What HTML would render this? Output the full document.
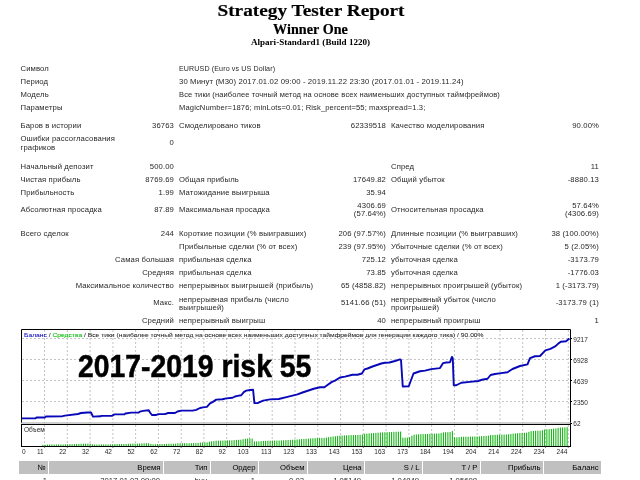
<!DOCTYPE html>
<html><head><meta charset="utf-8">
<style>
html,body{margin:0;padding:0;background:#fff;width:640px;height:480px;overflow:hidden;position:relative}
body{will-change:transform}
.t{position:absolute;white-space:nowrap;line-height:1;font-family:"Liberation Sans",sans-serif;color:#282828}
.abs{position:absolute}
.th{position:absolute;top:461px;height:12.5px;background:#c0c0c0}
.th span{position:absolute;right:2.5px;top:3.4px;font-family:"Liberation Sans",sans-serif;font-size:7.7px;line-height:1;white-space:nowrap}
</style></head><body>
<div class="t" style="top:0.06px;font-size:19.3px;font-family:'Liberation Serif', serif;font-weight:bold;color:#000;-webkit-text-stroke:0.2px #000;transform:scaleY(0.89);transform-origin:50% 80%;left:11.00px;width:600px;text-align:center;">Strategy Tester Report</div>
<div class="t" style="top:22.46px;font-size:14.1px;font-family:'Liberation Serif', serif;font-weight:bold;letter-spacing:0.05px;color:#000;-webkit-text-stroke:0.2px #000;left:10.50px;width:600px;text-align:center;">Winner One</div>
<div class="t" style="top:38.20px;font-size:9.1px;font-family:'Liberation Serif', serif;font-weight:bold;color:#000;transform:scaleY(0.94);transform-origin:50% 80%;left:10.50px;width:600px;text-align:center;">Alpari-Standard1 (Build 1220)</div>
<div class="t" style="top:65.48px;font-size:7.7px;letter-spacing:0.12px;left:20.50px;">Символ</div>
<div class="t" style="top:65.48px;font-size:7.7px;letter-spacing:0.12px;transform:scaleX(0.925);transform-origin:0 0;left:179.00px;">EURUSD (Euro vs US Dollar)</div>
<div class="t" style="top:78.48px;font-size:7.7px;letter-spacing:0.12px;left:20.50px;">Период</div>
<div class="t" style="top:78.48px;font-size:7.7px;letter-spacing:0.12px;transform:scaleX(1.006);transform-origin:0 0;left:179.00px;">30 Минут (M30) 2017.01.02 09:00 - 2019.11.22 23:30 (2017.01.01 - 2019.11.24)</div>
<div class="t" style="top:91.48px;font-size:7.7px;letter-spacing:0.12px;left:20.50px;">Модель</div>
<div class="t" style="top:91.48px;font-size:7.7px;letter-spacing:0.12px;transform:scaleX(0.978);transform-origin:0 0;left:179.00px;">Все тики (наиболее точный метод на основе всех наименьших доступных таймфреймов)</div>
<div class="t" style="top:104.48px;font-size:7.7px;letter-spacing:0.12px;left:20.50px;">Параметры</div>
<div class="t" style="top:104.48px;font-size:7.7px;letter-spacing:0.12px;transform:scaleX(0.988);transform-origin:0 0;left:179.00px;">MagicNumber=1876; minLots=0.01; Risk_percent=55; maxspread=1.3;</div>
<div class="t" style="top:122.48px;font-size:7.7px;letter-spacing:0.12px;left:20.50px;">Баров в истории</div>
<div class="t" style="top:122.48px;font-size:7.7px;letter-spacing:0.12px;right:466.00px;">36763</div>
<div class="t" style="top:122.48px;font-size:7.7px;letter-spacing:0.12px;left:179.00px;">Смоделировано тиков</div>
<div class="t" style="top:122.48px;font-size:7.7px;letter-spacing:0.12px;right:254.00px;">62339518</div>
<div class="t" style="top:122.48px;font-size:7.7px;letter-spacing:0.12px;left:391.00px;">Качество моделирования</div>
<div class="t" style="top:122.48px;font-size:7.7px;letter-spacing:0.12px;right:41.00px;">90.00%</div>
<div class="t" style="top:135.48px;font-size:7.7px;letter-spacing:0.12px;left:20.50px;">Ошибки рассогласования</div>
<div class="t" style="top:143.78px;font-size:7.7px;letter-spacing:0.12px;left:20.50px;">графиков</div>
<div class="t" style="top:139.48px;font-size:7.7px;letter-spacing:0.12px;right:466.00px;">0</div>
<div class="t" style="top:163.48px;font-size:7.7px;letter-spacing:0.12px;left:20.50px;">Начальный депозит</div>
<div class="t" style="top:163.48px;font-size:7.7px;letter-spacing:0.12px;right:466.00px;">500.00</div>
<div class="t" style="top:163.48px;font-size:7.7px;letter-spacing:0.12px;left:391.00px;">Спред</div>
<div class="t" style="top:163.48px;font-size:7.7px;letter-spacing:0.12px;right:41.00px;">11</div>
<div class="t" style="top:176.48px;font-size:7.7px;letter-spacing:0.12px;left:20.50px;">Чистая прибыль</div>
<div class="t" style="top:176.48px;font-size:7.7px;letter-spacing:0.12px;right:466.00px;">8769.69</div>
<div class="t" style="top:176.48px;font-size:7.7px;letter-spacing:0.12px;left:179.00px;">Общая прибыль</div>
<div class="t" style="top:176.48px;font-size:7.7px;letter-spacing:0.12px;right:254.00px;">17649.82</div>
<div class="t" style="top:176.48px;font-size:7.7px;letter-spacing:0.12px;left:391.00px;">Общий убыток</div>
<div class="t" style="top:176.48px;font-size:7.7px;letter-spacing:0.12px;right:41.00px;">-8880.13</div>
<div class="t" style="top:189.48px;font-size:7.7px;letter-spacing:0.12px;left:20.50px;">Прибыльность</div>
<div class="t" style="top:189.48px;font-size:7.7px;letter-spacing:0.12px;right:466.00px;">1.99</div>
<div class="t" style="top:189.48px;font-size:7.7px;letter-spacing:0.12px;left:179.00px;">Матожидание выигрыша</div>
<div class="t" style="top:189.48px;font-size:7.7px;letter-spacing:0.12px;right:254.00px;">35.94</div>
<div class="t" style="top:206.48px;font-size:7.7px;letter-spacing:0.12px;left:20.50px;">Абсолютная просадка</div>
<div class="t" style="top:206.48px;font-size:7.7px;letter-spacing:0.12px;right:466.00px;">87.89</div>
<div class="t" style="top:206.48px;font-size:7.7px;letter-spacing:0.12px;left:179.00px;">Максимальная просадка</div>
<div class="t" style="top:202.48px;font-size:7.7px;letter-spacing:0.12px;right:254.00px;">4306.69</div>
<div class="t" style="top:210.48px;font-size:7.7px;letter-spacing:0.12px;right:254.00px;">(57.64%)</div>
<div class="t" style="top:206.08px;font-size:7.7px;letter-spacing:0.12px;left:391.00px;">Относительная просадка</div>
<div class="t" style="top:202.48px;font-size:7.7px;letter-spacing:0.12px;right:41.00px;">57.64%</div>
<div class="t" style="top:210.48px;font-size:7.7px;letter-spacing:0.12px;right:41.00px;">(4306.69)</div>
<div class="t" style="top:230.48px;font-size:7.7px;letter-spacing:0.12px;left:20.50px;">Всего сделок</div>
<div class="t" style="top:230.48px;font-size:7.7px;letter-spacing:0.12px;right:466.00px;">244</div>
<div class="t" style="top:230.48px;font-size:7.7px;letter-spacing:0.12px;left:179.00px;">Короткие позиции (% выигравших)</div>
<div class="t" style="top:230.48px;font-size:7.7px;letter-spacing:0.12px;right:254.00px;">206 (97.57%)</div>
<div class="t" style="top:230.48px;font-size:7.7px;letter-spacing:0.12px;left:391.00px;">Длинные позиции (% выигравших)</div>
<div class="t" style="top:230.48px;font-size:7.7px;letter-spacing:0.12px;right:41.00px;">38 (100.00%)</div>
<div class="t" style="top:243.48px;font-size:7.7px;letter-spacing:0.12px;left:179.00px;">Прибыльные сделки (% от всех)</div>
<div class="t" style="top:243.48px;font-size:7.7px;letter-spacing:0.12px;right:254.00px;">239 (97.95%)</div>
<div class="t" style="top:243.48px;font-size:7.7px;letter-spacing:0.12px;left:391.00px;">Убыточные сделки (% от всех)</div>
<div class="t" style="top:243.48px;font-size:7.7px;letter-spacing:0.12px;right:41.00px;">5 (2.05%)</div>
<div class="t" style="top:255.98px;font-size:7.7px;letter-spacing:0.12px;right:466.00px;">Самая большая</div>
<div class="t" style="top:255.98px;font-size:7.7px;letter-spacing:0.12px;left:179.00px;">прибыльная сделка</div>
<div class="t" style="top:255.98px;font-size:7.7px;letter-spacing:0.12px;right:254.00px;">725.12</div>
<div class="t" style="top:255.98px;font-size:7.7px;letter-spacing:0.12px;left:391.00px;">убыточная сделка</div>
<div class="t" style="top:255.98px;font-size:7.7px;letter-spacing:0.12px;right:41.00px;">-3173.79</div>
<div class="t" style="top:269.08px;font-size:7.7px;letter-spacing:0.12px;right:466.00px;">Средняя</div>
<div class="t" style="top:269.08px;font-size:7.7px;letter-spacing:0.12px;left:179.00px;">прибыльная сделка</div>
<div class="t" style="top:269.08px;font-size:7.7px;letter-spacing:0.12px;right:254.00px;">73.85</div>
<div class="t" style="top:269.08px;font-size:7.7px;letter-spacing:0.12px;left:391.00px;">убыточная сделка</div>
<div class="t" style="top:269.08px;font-size:7.7px;letter-spacing:0.12px;right:41.00px;">-1776.03</div>
<div class="t" style="top:282.48px;font-size:7.7px;letter-spacing:0.12px;right:466.00px;">Максимальное количество</div>
<div class="t" style="top:282.48px;font-size:7.7px;letter-spacing:0.12px;left:179.00px;">непрерывных выигрышей (прибыль)</div>
<div class="t" style="top:282.48px;font-size:7.7px;letter-spacing:0.12px;right:254.00px;">65 (4858.82)</div>
<div class="t" style="top:282.48px;font-size:7.7px;letter-spacing:0.12px;left:391.00px;">непрерывных проигрышей (убыток)</div>
<div class="t" style="top:282.48px;font-size:7.7px;letter-spacing:0.12px;right:41.00px;">1 (-3173.79)</div>
<div class="t" style="top:299.48px;font-size:7.7px;letter-spacing:0.12px;right:466.00px;">Макс.</div>
<div class="t" style="top:295.78px;font-size:7.7px;letter-spacing:0.12px;left:179.00px;">непрерывная прибыль (число</div>
<div class="t" style="top:304.18px;font-size:7.7px;letter-spacing:0.12px;left:179.00px;">выигрышей)</div>
<div class="t" style="top:299.48px;font-size:7.7px;letter-spacing:0.12px;right:254.00px;">5141.66 (51)</div>
<div class="t" style="top:295.78px;font-size:7.7px;letter-spacing:0.12px;left:391.00px;">непрерывный убыток (число</div>
<div class="t" style="top:304.18px;font-size:7.7px;letter-spacing:0.12px;left:391.00px;">проигрышей)</div>
<div class="t" style="top:299.48px;font-size:7.7px;letter-spacing:0.12px;right:41.00px;">-3173.79 (1)</div>
<div class="t" style="top:317.28px;font-size:7.7px;letter-spacing:0.12px;right:466.00px;">Средний</div>
<div class="t" style="top:317.28px;font-size:7.7px;letter-spacing:0.12px;left:179.00px;">непрерывный выигрыш</div>
<div class="t" style="top:317.28px;font-size:7.7px;letter-spacing:0.12px;right:254.00px;">40</div>
<div class="t" style="top:317.28px;font-size:7.7px;letter-spacing:0.12px;left:391.00px;">непрерывный проигрыш</div>
<div class="t" style="top:317.28px;font-size:7.7px;letter-spacing:0.12px;right:41.00px;">1</div>
<svg class="abs" width="640" height="480" viewBox="0 0 640 480" style="left:0;top:0"><line x1="44.5" y1="330" x2="44.5" y2="423" stroke="#c4c4c4" stroke-width="1" stroke-dasharray="2,2"/><line x1="44.5" y1="425" x2="44.5" y2="446" stroke="#c4c4c4" stroke-width="1" stroke-dasharray="2,2"/><line x1="67.3" y1="330" x2="67.3" y2="423" stroke="#c4c4c4" stroke-width="1" stroke-dasharray="2,2"/><line x1="67.3" y1="425" x2="67.3" y2="446" stroke="#c4c4c4" stroke-width="1" stroke-dasharray="2,2"/><line x1="90.1" y1="330" x2="90.1" y2="423" stroke="#c4c4c4" stroke-width="1" stroke-dasharray="2,2"/><line x1="90.1" y1="425" x2="90.1" y2="446" stroke="#c4c4c4" stroke-width="1" stroke-dasharray="2,2"/><line x1="112.9" y1="330" x2="112.9" y2="423" stroke="#c4c4c4" stroke-width="1" stroke-dasharray="2,2"/><line x1="112.9" y1="425" x2="112.9" y2="446" stroke="#c4c4c4" stroke-width="1" stroke-dasharray="2,2"/><line x1="135.6" y1="330" x2="135.6" y2="423" stroke="#c4c4c4" stroke-width="1" stroke-dasharray="2,2"/><line x1="135.6" y1="425" x2="135.6" y2="446" stroke="#c4c4c4" stroke-width="1" stroke-dasharray="2,2"/><line x1="158.4" y1="330" x2="158.4" y2="423" stroke="#c4c4c4" stroke-width="1" stroke-dasharray="2,2"/><line x1="158.4" y1="425" x2="158.4" y2="446" stroke="#c4c4c4" stroke-width="1" stroke-dasharray="2,2"/><line x1="181.2" y1="330" x2="181.2" y2="423" stroke="#c4c4c4" stroke-width="1" stroke-dasharray="2,2"/><line x1="181.2" y1="425" x2="181.2" y2="446" stroke="#c4c4c4" stroke-width="1" stroke-dasharray="2,2"/><line x1="203.9" y1="330" x2="203.9" y2="423" stroke="#c4c4c4" stroke-width="1" stroke-dasharray="2,2"/><line x1="203.9" y1="425" x2="203.9" y2="446" stroke="#c4c4c4" stroke-width="1" stroke-dasharray="2,2"/><line x1="226.7" y1="330" x2="226.7" y2="423" stroke="#c4c4c4" stroke-width="1" stroke-dasharray="2,2"/><line x1="226.7" y1="425" x2="226.7" y2="446" stroke="#c4c4c4" stroke-width="1" stroke-dasharray="2,2"/><line x1="249.5" y1="330" x2="249.5" y2="423" stroke="#c4c4c4" stroke-width="1" stroke-dasharray="2,2"/><line x1="249.5" y1="425" x2="249.5" y2="446" stroke="#c4c4c4" stroke-width="1" stroke-dasharray="2,2"/><line x1="272.2" y1="330" x2="272.2" y2="423" stroke="#c4c4c4" stroke-width="1" stroke-dasharray="2,2"/><line x1="272.2" y1="425" x2="272.2" y2="446" stroke="#c4c4c4" stroke-width="1" stroke-dasharray="2,2"/><line x1="295.0" y1="330" x2="295.0" y2="423" stroke="#c4c4c4" stroke-width="1" stroke-dasharray="2,2"/><line x1="295.0" y1="425" x2="295.0" y2="446" stroke="#c4c4c4" stroke-width="1" stroke-dasharray="2,2"/><line x1="317.8" y1="330" x2="317.8" y2="423" stroke="#c4c4c4" stroke-width="1" stroke-dasharray="2,2"/><line x1="317.8" y1="425" x2="317.8" y2="446" stroke="#c4c4c4" stroke-width="1" stroke-dasharray="2,2"/><line x1="340.6" y1="330" x2="340.6" y2="423" stroke="#c4c4c4" stroke-width="1" stroke-dasharray="2,2"/><line x1="340.6" y1="425" x2="340.6" y2="446" stroke="#c4c4c4" stroke-width="1" stroke-dasharray="2,2"/><line x1="363.3" y1="330" x2="363.3" y2="423" stroke="#c4c4c4" stroke-width="1" stroke-dasharray="2,2"/><line x1="363.3" y1="425" x2="363.3" y2="446" stroke="#c4c4c4" stroke-width="1" stroke-dasharray="2,2"/><line x1="386.1" y1="330" x2="386.1" y2="423" stroke="#c4c4c4" stroke-width="1" stroke-dasharray="2,2"/><line x1="386.1" y1="425" x2="386.1" y2="446" stroke="#c4c4c4" stroke-width="1" stroke-dasharray="2,2"/><line x1="408.9" y1="330" x2="408.9" y2="423" stroke="#c4c4c4" stroke-width="1" stroke-dasharray="2,2"/><line x1="408.9" y1="425" x2="408.9" y2="446" stroke="#c4c4c4" stroke-width="1" stroke-dasharray="2,2"/><line x1="431.6" y1="330" x2="431.6" y2="423" stroke="#c4c4c4" stroke-width="1" stroke-dasharray="2,2"/><line x1="431.6" y1="425" x2="431.6" y2="446" stroke="#c4c4c4" stroke-width="1" stroke-dasharray="2,2"/><line x1="454.4" y1="330" x2="454.4" y2="423" stroke="#c4c4c4" stroke-width="1" stroke-dasharray="2,2"/><line x1="454.4" y1="425" x2="454.4" y2="446" stroke="#c4c4c4" stroke-width="1" stroke-dasharray="2,2"/><line x1="477.2" y1="330" x2="477.2" y2="423" stroke="#c4c4c4" stroke-width="1" stroke-dasharray="2,2"/><line x1="477.2" y1="425" x2="477.2" y2="446" stroke="#c4c4c4" stroke-width="1" stroke-dasharray="2,2"/><line x1="500.0" y1="330" x2="500.0" y2="423" stroke="#c4c4c4" stroke-width="1" stroke-dasharray="2,2"/><line x1="500.0" y1="425" x2="500.0" y2="446" stroke="#c4c4c4" stroke-width="1" stroke-dasharray="2,2"/><line x1="522.7" y1="330" x2="522.7" y2="423" stroke="#c4c4c4" stroke-width="1" stroke-dasharray="2,2"/><line x1="522.7" y1="425" x2="522.7" y2="446" stroke="#c4c4c4" stroke-width="1" stroke-dasharray="2,2"/><line x1="545.5" y1="330" x2="545.5" y2="423" stroke="#c4c4c4" stroke-width="1" stroke-dasharray="2,2"/><line x1="545.5" y1="425" x2="545.5" y2="446" stroke="#c4c4c4" stroke-width="1" stroke-dasharray="2,2"/><line x1="568.3" y1="330" x2="568.3" y2="423" stroke="#c4c4c4" stroke-width="1" stroke-dasharray="2,2"/><line x1="568.3" y1="425" x2="568.3" y2="446" stroke="#c4c4c4" stroke-width="1" stroke-dasharray="2,2"/><line x1="22" y1="338.5" x2="570" y2="338.5" stroke="#c4c4c4" stroke-width="1" stroke-dasharray="2,2"/><line x1="22" y1="359.5" x2="570" y2="359.5" stroke="#c4c4c4" stroke-width="1" stroke-dasharray="2,2"/><line x1="22" y1="380.5" x2="570" y2="380.5" stroke="#c4c4c4" stroke-width="1" stroke-dasharray="2,2"/><line x1="22" y1="401.5" x2="570" y2="401.5" stroke="#c4c4c4" stroke-width="1" stroke-dasharray="2,2"/><path d="M21.50,418.40 L35.60,418.40 L36.50,417.50 L45.00,417.50 L45.80,416.50 L62.50,416.20 L65.00,415.60 L78.00,414.00 L81.00,413.00 L87.50,412.50 L91.00,412.50 L93.00,416.60 L100.60,416.30 L101.50,415.90 L111.90,415.90 L114.40,414.40 L124.40,414.30 L125.50,413.50 L131.25,412.60 L138.75,412.50 L140.00,411.60 L143.00,410.90 L148.75,410.30 L150.00,412.50 L151.90,415.00 L156.25,415.00 L158.10,414.10 L165.00,414.10 L168.10,413.00 L175.00,413.00 L177.50,411.50 L181.25,410.60 L192.50,410.60 L196.25,409.90 L200.00,408.00 L203.00,407.40 L206.90,406.90 L210.00,403.40 L212.50,402.10 L216.25,399.60 L222.50,399.25 L226.25,398.40 L232.50,397.75 L235.00,396.50 L237.50,395.90 L241.25,395.25 L243.75,392.10 L246.25,390.60 L250.00,390.00 L253.10,389.75 L254.40,403.10 L257.50,403.10 L263.10,400.60 L270.00,399.40 L278.75,399.00 L287.50,396.90 L297.50,394.40 L302.50,392.50 L313.75,388.75 L320.00,387.25 L324.40,387.25 L327.50,385.00 L331.90,381.90 L335.00,380.60 L340.00,377.50 L345.00,376.60 L352.50,374.75 L357.50,374.75 L361.90,373.50 L364.40,369.40 L367.50,368.50 L372.50,366.50 L381.25,363.50 L385.00,362.75 L389.40,362.50 L395.00,361.00 L400.00,359.40 L401.00,360.00 L402.75,386.50 L408.75,386.25 L413.50,373.50 L420.00,371.25 L425.00,370.60 L431.25,369.10 L440.00,368.10 L443.10,363.10 L446.25,362.50 L450.00,362.25 L451.90,356.90 L452.75,358.00 L453.75,385.25 L456.25,385.25 L461.25,382.75 L470.00,381.90 L478.10,381.00 L481.90,379.75 L487.50,378.75 L490.60,375.00 L495.00,374.00 L501.25,373.10 L507.50,372.25 L512.50,369.00 L520.00,366.00 L527.50,364.40 L530.00,358.10 L535.00,356.25 L540.00,356.00 L545.40,350.40 L550.40,348.80 L555.60,346.20 L558.20,343.60 L560.80,341.80 L566.00,341.25 L569.50,338.50" fill="none" stroke="#0808b8" stroke-width="1.9" stroke-linejoin="round"/><line x1="42.88" y1="444.79" x2="42.88" y2="446" stroke="#00b000" stroke-width="1"/><line x1="45.12" y1="444.76" x2="45.12" y2="446" stroke="#00b000" stroke-width="1"/><line x1="47.38" y1="444.56" x2="47.38" y2="446" stroke="#00b000" stroke-width="1"/><line x1="49.62" y1="444.55" x2="49.62" y2="446" stroke="#00b000" stroke-width="1"/><line x1="51.88" y1="444.54" x2="51.88" y2="446" stroke="#00b000" stroke-width="1"/><line x1="54.12" y1="444.53" x2="54.12" y2="446" stroke="#00b000" stroke-width="1"/><line x1="56.38" y1="444.52" x2="56.38" y2="446" stroke="#00b000" stroke-width="1"/><line x1="58.62" y1="444.51" x2="58.62" y2="446" stroke="#00b000" stroke-width="1"/><line x1="60.88" y1="444.50" x2="60.88" y2="446" stroke="#00b000" stroke-width="1"/><line x1="63.12" y1="444.46" x2="63.12" y2="446" stroke="#00b000" stroke-width="1"/><line x1="65.38" y1="444.35" x2="65.38" y2="446" stroke="#00b000" stroke-width="1"/><line x1="67.62" y1="444.28" x2="67.62" y2="446" stroke="#00b000" stroke-width="1"/><line x1="69.88" y1="444.22" x2="69.88" y2="446" stroke="#00b000" stroke-width="1"/><line x1="72.12" y1="444.16" x2="72.12" y2="446" stroke="#00b000" stroke-width="1"/><line x1="74.38" y1="444.09" x2="74.38" y2="446" stroke="#00b000" stroke-width="1"/><line x1="76.62" y1="444.03" x2="76.62" y2="446" stroke="#00b000" stroke-width="1"/><line x1="78.88" y1="443.93" x2="78.88" y2="446" stroke="#00b000" stroke-width="1"/><line x1="81.12" y1="443.76" x2="81.12" y2="446" stroke="#00b000" stroke-width="1"/><line x1="83.38" y1="443.72" x2="83.38" y2="446" stroke="#00b000" stroke-width="1"/><line x1="85.62" y1="443.68" x2="85.62" y2="446" stroke="#00b000" stroke-width="1"/><line x1="87.88" y1="443.65" x2="87.88" y2="446" stroke="#00b000" stroke-width="1"/><line x1="90.12" y1="443.65" x2="90.12" y2="446" stroke="#00b000" stroke-width="1"/><line x1="92.38" y1="444.29" x2="92.38" y2="446" stroke="#00b000" stroke-width="1"/><line x1="94.62" y1="444.57" x2="94.62" y2="446" stroke="#00b000" stroke-width="1"/><line x1="96.88" y1="444.55" x2="96.88" y2="446" stroke="#00b000" stroke-width="1"/><line x1="99.12" y1="444.53" x2="99.12" y2="446" stroke="#00b000" stroke-width="1"/><line x1="101.38" y1="444.44" x2="101.38" y2="446" stroke="#00b000" stroke-width="1"/><line x1="103.62" y1="444.43" x2="103.62" y2="446" stroke="#00b000" stroke-width="1"/><line x1="105.88" y1="444.43" x2="105.88" y2="446" stroke="#00b000" stroke-width="1"/><line x1="108.12" y1="444.43" x2="108.12" y2="446" stroke="#00b000" stroke-width="1"/><line x1="110.38" y1="444.43" x2="110.38" y2="446" stroke="#00b000" stroke-width="1"/><line x1="112.62" y1="444.33" x2="112.62" y2="446" stroke="#00b000" stroke-width="1"/><line x1="114.88" y1="444.08" x2="114.88" y2="446" stroke="#00b000" stroke-width="1"/><line x1="117.12" y1="444.08" x2="117.12" y2="446" stroke="#00b000" stroke-width="1"/><line x1="119.38" y1="444.07" x2="119.38" y2="446" stroke="#00b000" stroke-width="1"/><line x1="121.62" y1="444.07" x2="121.62" y2="446" stroke="#00b000" stroke-width="1"/><line x1="123.88" y1="444.06" x2="123.88" y2="446" stroke="#00b000" stroke-width="1"/><line x1="126.12" y1="443.86" x2="126.12" y2="446" stroke="#00b000" stroke-width="1"/><line x1="128.38" y1="443.77" x2="128.38" y2="446" stroke="#00b000" stroke-width="1"/><line x1="130.62" y1="443.69" x2="130.62" y2="446" stroke="#00b000" stroke-width="1"/><line x1="132.88" y1="443.67" x2="132.88" y2="446" stroke="#00b000" stroke-width="1"/><line x1="135.12" y1="443.66" x2="135.12" y2="446" stroke="#00b000" stroke-width="1"/><line x1="137.38" y1="443.65" x2="137.38" y2="446" stroke="#00b000" stroke-width="1"/><line x1="139.62" y1="443.50" x2="139.62" y2="446" stroke="#00b000" stroke-width="1"/><line x1="141.88" y1="443.34" x2="141.88" y2="446" stroke="#00b000" stroke-width="1"/><line x1="144.12" y1="443.26" x2="144.12" y2="446" stroke="#00b000" stroke-width="1"/><line x1="146.38" y1="443.20" x2="146.38" y2="446" stroke="#00b000" stroke-width="1"/><line x1="148.62" y1="443.15" x2="148.62" y2="446" stroke="#00b000" stroke-width="1"/><line x1="150.88" y1="443.91" x2="150.88" y2="446" stroke="#00b000" stroke-width="1"/><line x1="153.12" y1="444.22" x2="153.12" y2="446" stroke="#00b000" stroke-width="1"/><line x1="155.38" y1="444.22" x2="155.38" y2="446" stroke="#00b000" stroke-width="1"/><line x1="157.62" y1="444.07" x2="157.62" y2="446" stroke="#00b000" stroke-width="1"/><line x1="159.88" y1="444.02" x2="159.88" y2="446" stroke="#00b000" stroke-width="1"/><line x1="162.12" y1="444.02" x2="162.12" y2="446" stroke="#00b000" stroke-width="1"/><line x1="164.38" y1="444.02" x2="164.38" y2="446" stroke="#00b000" stroke-width="1"/><line x1="166.62" y1="443.88" x2="166.62" y2="446" stroke="#00b000" stroke-width="1"/><line x1="168.88" y1="443.76" x2="168.88" y2="446" stroke="#00b000" stroke-width="1"/><line x1="171.12" y1="443.76" x2="171.12" y2="446" stroke="#00b000" stroke-width="1"/><line x1="173.38" y1="443.76" x2="173.38" y2="446" stroke="#00b000" stroke-width="1"/><line x1="175.62" y1="443.68" x2="175.62" y2="446" stroke="#00b000" stroke-width="1"/><line x1="177.88" y1="443.40" x2="177.88" y2="446" stroke="#00b000" stroke-width="1"/><line x1="180.12" y1="443.28" x2="180.12" y2="446" stroke="#00b000" stroke-width="1"/><line x1="182.38" y1="443.21" x2="182.38" y2="446" stroke="#00b000" stroke-width="1"/><line x1="184.62" y1="443.21" x2="184.62" y2="446" stroke="#00b000" stroke-width="1"/><line x1="186.88" y1="443.21" x2="186.88" y2="446" stroke="#00b000" stroke-width="1"/><line x1="189.12" y1="443.21" x2="189.12" y2="446" stroke="#00b000" stroke-width="1"/><line x1="191.38" y1="443.21" x2="191.38" y2="446" stroke="#00b000" stroke-width="1"/><line x1="193.62" y1="443.17" x2="193.62" y2="446" stroke="#00b000" stroke-width="1"/><line x1="195.88" y1="443.07" x2="195.88" y2="446" stroke="#00b000" stroke-width="1"/><line x1="198.12" y1="442.84" x2="198.12" y2="446" stroke="#00b000" stroke-width="1"/><line x1="200.38" y1="442.60" x2="200.38" y2="446" stroke="#00b000" stroke-width="1"/><line x1="202.62" y1="442.50" x2="202.62" y2="446" stroke="#00b000" stroke-width="1"/><line x1="204.88" y1="442.43" x2="204.88" y2="446" stroke="#00b000" stroke-width="1"/><line x1="207.12" y1="442.31" x2="207.12" y2="446" stroke="#00b000" stroke-width="1"/><line x1="209.38" y1="441.73" x2="209.38" y2="446" stroke="#00b000" stroke-width="1"/><line x1="211.62" y1="441.37" x2="211.62" y2="446" stroke="#00b000" stroke-width="1"/><line x1="213.88" y1="441.06" x2="213.88" y2="446" stroke="#00b000" stroke-width="1"/><line x1="216.12" y1="440.71" x2="216.12" y2="446" stroke="#00b000" stroke-width="1"/><line x1="218.38" y1="440.67" x2="218.38" y2="446" stroke="#00b000" stroke-width="1"/><line x1="220.62" y1="440.64" x2="220.62" y2="446" stroke="#00b000" stroke-width="1"/><line x1="222.88" y1="440.59" x2="222.88" y2="446" stroke="#00b000" stroke-width="1"/><line x1="225.12" y1="440.48" x2="225.12" y2="446" stroke="#00b000" stroke-width="1"/><line x1="227.38" y1="440.39" x2="227.38" y2="446" stroke="#00b000" stroke-width="1"/><line x1="229.62" y1="440.34" x2="229.62" y2="446" stroke="#00b000" stroke-width="1"/><line x1="231.88" y1="440.29" x2="231.88" y2="446" stroke="#00b000" stroke-width="1"/><line x1="234.12" y1="440.08" x2="234.12" y2="446" stroke="#00b000" stroke-width="1"/><line x1="236.38" y1="439.91" x2="236.38" y2="446" stroke="#00b000" stroke-width="1"/><line x1="238.62" y1="439.80" x2="238.62" y2="446" stroke="#00b000" stroke-width="1"/><line x1="240.88" y1="439.71" x2="240.88" y2="446" stroke="#00b000" stroke-width="1"/><line x1="243.12" y1="439.16" x2="243.12" y2="446" stroke="#00b000" stroke-width="1"/><line x1="245.38" y1="438.75" x2="245.38" y2="446" stroke="#00b000" stroke-width="1"/><line x1="247.62" y1="438.58" x2="247.62" y2="446" stroke="#00b000" stroke-width="1"/><line x1="249.88" y1="438.50" x2="249.88" y2="446" stroke="#00b000" stroke-width="1"/><line x1="252.12" y1="438.46" x2="252.12" y2="446" stroke="#00b000" stroke-width="1"/><line x1="254.38" y1="441.44" x2="254.38" y2="446" stroke="#00b000" stroke-width="1"/><line x1="256.62" y1="441.50" x2="256.62" y2="446" stroke="#00b000" stroke-width="1"/><line x1="258.88" y1="441.36" x2="258.88" y2="446" stroke="#00b000" stroke-width="1"/><line x1="261.12" y1="441.13" x2="261.12" y2="446" stroke="#00b000" stroke-width="1"/><line x1="263.38" y1="440.91" x2="263.38" y2="446" stroke="#00b000" stroke-width="1"/><line x1="265.62" y1="440.82" x2="265.62" y2="446" stroke="#00b000" stroke-width="1"/><line x1="267.88" y1="440.73" x2="267.88" y2="446" stroke="#00b000" stroke-width="1"/><line x1="270.12" y1="440.65" x2="270.12" y2="446" stroke="#00b000" stroke-width="1"/><line x1="272.38" y1="440.62" x2="272.38" y2="446" stroke="#00b000" stroke-width="1"/><line x1="274.62" y1="440.60" x2="274.62" y2="446" stroke="#00b000" stroke-width="1"/><line x1="276.88" y1="440.58" x2="276.88" y2="446" stroke="#00b000" stroke-width="1"/><line x1="279.12" y1="440.54" x2="279.12" y2="446" stroke="#00b000" stroke-width="1"/><line x1="281.38" y1="440.41" x2="281.38" y2="446" stroke="#00b000" stroke-width="1"/><line x1="283.62" y1="440.29" x2="283.62" y2="446" stroke="#00b000" stroke-width="1"/><line x1="285.88" y1="440.17" x2="285.88" y2="446" stroke="#00b000" stroke-width="1"/><line x1="288.12" y1="440.04" x2="288.12" y2="446" stroke="#00b000" stroke-width="1"/><line x1="290.38" y1="439.91" x2="290.38" y2="446" stroke="#00b000" stroke-width="1"/><line x1="292.62" y1="439.78" x2="292.62" y2="446" stroke="#00b000" stroke-width="1"/><line x1="294.88" y1="439.65" x2="294.88" y2="446" stroke="#00b000" stroke-width="1"/><line x1="297.12" y1="439.52" x2="297.12" y2="446" stroke="#00b000" stroke-width="1"/><line x1="299.38" y1="439.34" x2="299.38" y2="446" stroke="#00b000" stroke-width="1"/><line x1="301.62" y1="439.14" x2="301.62" y2="446" stroke="#00b000" stroke-width="1"/><line x1="303.88" y1="438.96" x2="303.88" y2="446" stroke="#00b000" stroke-width="1"/><line x1="306.12" y1="438.79" x2="306.12" y2="446" stroke="#00b000" stroke-width="1"/><line x1="308.38" y1="438.62" x2="308.38" y2="446" stroke="#00b000" stroke-width="1"/><line x1="310.62" y1="438.45" x2="310.62" y2="446" stroke="#00b000" stroke-width="1"/><line x1="312.88" y1="438.28" x2="312.88" y2="446" stroke="#00b000" stroke-width="1"/><line x1="315.12" y1="438.13" x2="315.12" y2="446" stroke="#00b000" stroke-width="1"/><line x1="317.38" y1="438.01" x2="317.38" y2="446" stroke="#00b000" stroke-width="1"/><line x1="319.62" y1="437.89" x2="319.62" y2="446" stroke="#00b000" stroke-width="1"/><line x1="321.88" y1="437.87" x2="321.88" y2="446" stroke="#00b000" stroke-width="1"/><line x1="324.12" y1="437.87" x2="324.12" y2="446" stroke="#00b000" stroke-width="1"/><line x1="326.38" y1="437.54" x2="326.38" y2="446" stroke="#00b000" stroke-width="1"/><line x1="328.62" y1="437.17" x2="328.62" y2="446" stroke="#00b000" stroke-width="1"/><line x1="330.88" y1="436.81" x2="330.88" y2="446" stroke="#00b000" stroke-width="1"/><line x1="333.12" y1="436.52" x2="333.12" y2="446" stroke="#00b000" stroke-width="1"/><line x1="335.38" y1="436.29" x2="335.38" y2="446" stroke="#00b000" stroke-width="1"/><line x1="337.62" y1="435.97" x2="337.62" y2="446" stroke="#00b000" stroke-width="1"/><line x1="339.88" y1="435.65" x2="339.88" y2="446" stroke="#00b000" stroke-width="1"/><line x1="342.12" y1="435.54" x2="342.12" y2="446" stroke="#00b000" stroke-width="1"/><line x1="344.38" y1="435.45" x2="344.38" y2="446" stroke="#00b000" stroke-width="1"/><line x1="346.62" y1="435.33" x2="346.62" y2="446" stroke="#00b000" stroke-width="1"/><line x1="348.88" y1="435.21" x2="348.88" y2="446" stroke="#00b000" stroke-width="1"/><line x1="351.12" y1="435.08" x2="351.12" y2="446" stroke="#00b000" stroke-width="1"/><line x1="353.38" y1="435.00" x2="353.38" y2="446" stroke="#00b000" stroke-width="1"/><line x1="355.62" y1="435.00" x2="355.62" y2="446" stroke="#00b000" stroke-width="1"/><line x1="357.88" y1="434.98" x2="357.88" y2="446" stroke="#00b000" stroke-width="1"/><line x1="360.12" y1="434.83" x2="360.12" y2="446" stroke="#00b000" stroke-width="1"/><line x1="362.38" y1="434.54" x2="362.38" y2="446" stroke="#00b000" stroke-width="1"/><line x1="364.62" y1="433.76" x2="364.62" y2="446" stroke="#00b000" stroke-width="1"/><line x1="366.88" y1="433.61" x2="366.88" y2="446" stroke="#00b000" stroke-width="1"/><line x1="369.12" y1="433.42" x2="369.12" y2="446" stroke="#00b000" stroke-width="1"/><line x1="371.38" y1="433.22" x2="371.38" y2="446" stroke="#00b000" stroke-width="1"/><line x1="373.62" y1="433.02" x2="373.62" y2="446" stroke="#00b000" stroke-width="1"/><line x1="375.88" y1="432.85" x2="375.88" y2="446" stroke="#00b000" stroke-width="1"/><line x1="378.12" y1="432.67" x2="378.12" y2="446" stroke="#00b000" stroke-width="1"/><line x1="380.38" y1="432.49" x2="380.38" y2="446" stroke="#00b000" stroke-width="1"/><line x1="382.62" y1="432.36" x2="382.62" y2="446" stroke="#00b000" stroke-width="1"/><line x1="384.88" y1="432.26" x2="384.88" y2="446" stroke="#00b000" stroke-width="1"/><line x1="387.12" y1="432.23" x2="387.12" y2="446" stroke="#00b000" stroke-width="1"/><line x1="389.38" y1="432.20" x2="389.38" y2="446" stroke="#00b000" stroke-width="1"/><line x1="391.62" y1="432.06" x2="391.62" y2="446" stroke="#00b000" stroke-width="1"/><line x1="393.88" y1="431.92" x2="393.88" y2="446" stroke="#00b000" stroke-width="1"/><line x1="396.12" y1="431.77" x2="396.12" y2="446" stroke="#00b000" stroke-width="1"/><line x1="398.38" y1="431.61" x2="398.38" y2="446" stroke="#00b000" stroke-width="1"/><line x1="400.62" y1="431.57" x2="400.62" y2="446" stroke="#00b000" stroke-width="1"/><line x1="402.88" y1="437.69" x2="402.88" y2="446" stroke="#00b000" stroke-width="1"/><line x1="405.12" y1="437.67" x2="405.12" y2="446" stroke="#00b000" stroke-width="1"/><line x1="407.38" y1="437.65" x2="407.38" y2="446" stroke="#00b000" stroke-width="1"/><line x1="409.62" y1="437.10" x2="409.62" y2="446" stroke="#00b000" stroke-width="1"/><line x1="411.88" y1="435.72" x2="411.88" y2="446" stroke="#00b000" stroke-width="1"/><line x1="414.12" y1="434.67" x2="414.12" y2="446" stroke="#00b000" stroke-width="1"/><line x1="416.38" y1="434.49" x2="416.38" y2="446" stroke="#00b000" stroke-width="1"/><line x1="418.62" y1="434.31" x2="418.62" y2="446" stroke="#00b000" stroke-width="1"/><line x1="420.88" y1="434.17" x2="420.88" y2="446" stroke="#00b000" stroke-width="1"/><line x1="423.12" y1="434.11" x2="423.12" y2="446" stroke="#00b000" stroke-width="1"/><line x1="425.38" y1="434.03" x2="425.38" y2="446" stroke="#00b000" stroke-width="1"/><line x1="427.62" y1="433.91" x2="427.62" y2="446" stroke="#00b000" stroke-width="1"/><line x1="429.88" y1="433.78" x2="429.88" y2="446" stroke="#00b000" stroke-width="1"/><line x1="432.12" y1="433.69" x2="432.12" y2="446" stroke="#00b000" stroke-width="1"/><line x1="434.38" y1="433.63" x2="434.38" y2="446" stroke="#00b000" stroke-width="1"/><line x1="436.62" y1="433.57" x2="436.62" y2="446" stroke="#00b000" stroke-width="1"/><line x1="438.88" y1="433.51" x2="438.88" y2="446" stroke="#00b000" stroke-width="1"/><line x1="441.12" y1="433.06" x2="441.12" y2="446" stroke="#00b000" stroke-width="1"/><line x1="443.38" y1="432.32" x2="443.38" y2="446" stroke="#00b000" stroke-width="1"/><line x1="445.62" y1="432.22" x2="445.62" y2="446" stroke="#00b000" stroke-width="1"/><line x1="447.88" y1="432.17" x2="447.88" y2="446" stroke="#00b000" stroke-width="1"/><line x1="450.12" y1="432.06" x2="450.12" y2="446" stroke="#00b000" stroke-width="1"/><line x1="452.38" y1="431.06" x2="452.38" y2="446" stroke="#00b000" stroke-width="1"/><line x1="454.62" y1="437.41" x2="454.62" y2="446" stroke="#00b000" stroke-width="1"/><line x1="456.88" y1="437.34" x2="456.88" y2="446" stroke="#00b000" stroke-width="1"/><line x1="459.12" y1="437.08" x2="459.12" y2="446" stroke="#00b000" stroke-width="1"/><line x1="461.38" y1="436.83" x2="461.38" y2="446" stroke="#00b000" stroke-width="1"/><line x1="463.62" y1="436.78" x2="463.62" y2="446" stroke="#00b000" stroke-width="1"/><line x1="465.88" y1="436.73" x2="465.88" y2="446" stroke="#00b000" stroke-width="1"/><line x1="468.12" y1="436.68" x2="468.12" y2="446" stroke="#00b000" stroke-width="1"/><line x1="470.38" y1="436.63" x2="470.38" y2="446" stroke="#00b000" stroke-width="1"/><line x1="472.62" y1="436.57" x2="472.62" y2="446" stroke="#00b000" stroke-width="1"/><line x1="474.88" y1="436.52" x2="474.88" y2="446" stroke="#00b000" stroke-width="1"/><line x1="477.12" y1="436.46" x2="477.12" y2="446" stroke="#00b000" stroke-width="1"/><line x1="479.38" y1="436.34" x2="479.38" y2="446" stroke="#00b000" stroke-width="1"/><line x1="481.62" y1="436.17" x2="481.62" y2="446" stroke="#00b000" stroke-width="1"/><line x1="483.88" y1="436.07" x2="483.88" y2="446" stroke="#00b000" stroke-width="1"/><line x1="486.12" y1="435.97" x2="486.12" y2="446" stroke="#00b000" stroke-width="1"/><line x1="488.38" y1="435.68" x2="488.38" y2="446" stroke="#00b000" stroke-width="1"/><line x1="490.62" y1="435.06" x2="490.62" y2="446" stroke="#00b000" stroke-width="1"/><line x1="492.88" y1="434.94" x2="492.88" y2="446" stroke="#00b000" stroke-width="1"/><line x1="495.12" y1="434.83" x2="495.12" y2="446" stroke="#00b000" stroke-width="1"/><line x1="497.38" y1="434.75" x2="497.38" y2="446" stroke="#00b000" stroke-width="1"/><line x1="499.62" y1="434.68" x2="499.62" y2="446" stroke="#00b000" stroke-width="1"/><line x1="501.88" y1="434.61" x2="501.88" y2="446" stroke="#00b000" stroke-width="1"/><line x1="504.12" y1="434.54" x2="504.12" y2="446" stroke="#00b000" stroke-width="1"/><line x1="506.38" y1="434.47" x2="506.38" y2="446" stroke="#00b000" stroke-width="1"/><line x1="508.62" y1="434.26" x2="508.62" y2="446" stroke="#00b000" stroke-width="1"/><line x1="510.88" y1="433.93" x2="510.88" y2="446" stroke="#00b000" stroke-width="1"/><line x1="513.12" y1="433.63" x2="513.12" y2="446" stroke="#00b000" stroke-width="1"/><line x1="515.38" y1="433.42" x2="515.38" y2="446" stroke="#00b000" stroke-width="1"/><line x1="517.62" y1="433.22" x2="517.62" y2="446" stroke="#00b000" stroke-width="1"/><line x1="519.88" y1="433.01" x2="519.88" y2="446" stroke="#00b000" stroke-width="1"/><line x1="522.12" y1="432.89" x2="522.12" y2="446" stroke="#00b000" stroke-width="1"/><line x1="524.38" y1="432.78" x2="524.38" y2="446" stroke="#00b000" stroke-width="1"/><line x1="526.62" y1="432.67" x2="526.62" y2="446" stroke="#00b000" stroke-width="1"/><line x1="528.88" y1="431.84" x2="528.88" y2="446" stroke="#00b000" stroke-width="1"/><line x1="531.12" y1="431.09" x2="531.12" y2="446" stroke="#00b000" stroke-width="1"/><line x1="533.38" y1="430.90" x2="533.38" y2="446" stroke="#00b000" stroke-width="1"/><line x1="535.62" y1="430.76" x2="535.62" y2="446" stroke="#00b000" stroke-width="1"/><line x1="537.88" y1="430.73" x2="537.88" y2="446" stroke="#00b000" stroke-width="1"/><line x1="540.12" y1="430.68" x2="540.12" y2="446" stroke="#00b000" stroke-width="1"/><line x1="542.38" y1="430.14" x2="542.38" y2="446" stroke="#00b000" stroke-width="1"/><line x1="544.62" y1="429.61" x2="544.62" y2="446" stroke="#00b000" stroke-width="1"/><line x1="546.88" y1="429.32" x2="546.88" y2="446" stroke="#00b000" stroke-width="1"/><line x1="549.12" y1="429.15" x2="549.12" y2="446" stroke="#00b000" stroke-width="1"/><line x1="551.38" y1="428.95" x2="551.38" y2="446" stroke="#00b000" stroke-width="1"/><line x1="553.62" y1="428.69" x2="553.62" y2="446" stroke="#00b000" stroke-width="1"/><line x1="555.88" y1="428.40" x2="555.88" y2="446" stroke="#00b000" stroke-width="1"/><line x1="558.12" y1="427.89" x2="558.12" y2="446" stroke="#00b000" stroke-width="1"/><line x1="560.38" y1="427.52" x2="560.38" y2="446" stroke="#00b000" stroke-width="1"/><line x1="562.62" y1="427.41" x2="562.62" y2="446" stroke="#00b000" stroke-width="1"/><line x1="564.88" y1="427.36" x2="564.88" y2="446" stroke="#00b000" stroke-width="1"/><line x1="567.12" y1="427.13" x2="567.12" y2="446" stroke="#00b000" stroke-width="1"/><path d="M21.5,423 V329.5 H570.5 V423" fill="none" stroke="#000" stroke-width="1"/><line x1="21" y1="423" x2="571" y2="423" stroke="#a0a0a0" stroke-width="1"/><rect x="21.5" y="424.5" width="549" height="22" fill="none" stroke="#000" stroke-width="1"/><line x1="570" y1="338.5" x2="572" y2="338.5" stroke="#000" stroke-width="1"/><line x1="570" y1="359.5" x2="572" y2="359.5" stroke="#000" stroke-width="1"/><line x1="570" y1="380.5" x2="572" y2="380.5" stroke="#000" stroke-width="1"/><line x1="570" y1="401.5" x2="572" y2="401.5" stroke="#000" stroke-width="1"/><line x1="570" y1="423.5" x2="572" y2="423.5" stroke="#000" stroke-width="1"/><line x1="44.55" y1="446.5" x2="44.55" y2="447.8" stroke="#555" stroke-width="1"/><line x1="67.32" y1="446.5" x2="67.32" y2="447.8" stroke="#555" stroke-width="1"/><line x1="90.09" y1="446.5" x2="90.09" y2="447.8" stroke="#555" stroke-width="1"/><line x1="112.86" y1="446.5" x2="112.86" y2="447.8" stroke="#555" stroke-width="1"/><line x1="135.63" y1="446.5" x2="135.63" y2="447.8" stroke="#555" stroke-width="1"/><line x1="158.4" y1="446.5" x2="158.4" y2="447.8" stroke="#555" stroke-width="1"/><line x1="181.17" y1="446.5" x2="181.17" y2="447.8" stroke="#555" stroke-width="1"/><line x1="203.94" y1="446.5" x2="203.94" y2="447.8" stroke="#555" stroke-width="1"/><line x1="226.71" y1="446.5" x2="226.71" y2="447.8" stroke="#555" stroke-width="1"/><line x1="249.48" y1="446.5" x2="249.48" y2="447.8" stroke="#555" stroke-width="1"/><line x1="272.25" y1="446.5" x2="272.25" y2="447.8" stroke="#555" stroke-width="1"/><line x1="295.02" y1="446.5" x2="295.02" y2="447.8" stroke="#555" stroke-width="1"/><line x1="317.78999999999996" y1="446.5" x2="317.78999999999996" y2="447.8" stroke="#555" stroke-width="1"/><line x1="340.55999999999995" y1="446.5" x2="340.55999999999995" y2="447.8" stroke="#555" stroke-width="1"/><line x1="363.33000000000004" y1="446.5" x2="363.33000000000004" y2="447.8" stroke="#555" stroke-width="1"/><line x1="386.1" y1="446.5" x2="386.1" y2="447.8" stroke="#555" stroke-width="1"/><line x1="408.87" y1="446.5" x2="408.87" y2="447.8" stroke="#555" stroke-width="1"/><line x1="431.64" y1="446.5" x2="431.64" y2="447.8" stroke="#555" stroke-width="1"/><line x1="454.40999999999997" y1="446.5" x2="454.40999999999997" y2="447.8" stroke="#555" stroke-width="1"/><line x1="477.17999999999995" y1="446.5" x2="477.17999999999995" y2="447.8" stroke="#555" stroke-width="1"/><line x1="499.95000000000005" y1="446.5" x2="499.95000000000005" y2="447.8" stroke="#555" stroke-width="1"/><line x1="522.72" y1="446.5" x2="522.72" y2="447.8" stroke="#555" stroke-width="1"/><line x1="545.49" y1="446.5" x2="545.49" y2="447.8" stroke="#555" stroke-width="1"/><line x1="568.26" y1="446.5" x2="568.26" y2="447.8" stroke="#555" stroke-width="1"/></svg>
<div class="t" style="top:331.58px;font-size:6.1px;left:24.00px;-webkit-text-stroke:0.06px currentColor;transform:scaleX(1.1);transform-origin:0 0;"><span style="color:#0000c0">Баланс</span> / <span style="color:#00b800">Средства</span> / Все тики (наиболее точный метод на основе всех наименьших доступных таймфреймов для генерации каждого тика) / 90.00%</div>
<div class="t" style="top:337.14px;font-size:6.5px;left:573.30px;">9217</div>
<div class="t" style="top:358.14px;font-size:6.5px;left:573.30px;">6928</div>
<div class="t" style="top:379.14px;font-size:6.5px;left:573.30px;">4639</div>
<div class="t" style="top:400.14px;font-size:6.5px;left:573.30px;">2350</div>
<div class="t" style="top:420.74px;font-size:6.5px;left:573.30px;">62</div>
<div class="t" style="top:426.74px;font-size:6.5px;left:24.00px;">Объем</div>
<div class="t" style="top:448.94px;font-size:6.5px;left:22.00px;">0</div>
<div class="t" style="top:448.94px;font-size:6.5px;right:596.35px;">11</div>
<div class="t" style="top:448.94px;font-size:6.5px;right:573.58px;">22</div>
<div class="t" style="top:448.94px;font-size:6.5px;right:550.81px;">32</div>
<div class="t" style="top:448.94px;font-size:6.5px;right:528.04px;">42</div>
<div class="t" style="top:448.94px;font-size:6.5px;right:505.27px;">52</div>
<div class="t" style="top:448.94px;font-size:6.5px;right:482.50px;">62</div>
<div class="t" style="top:448.94px;font-size:6.5px;right:459.73px;">72</div>
<div class="t" style="top:448.94px;font-size:6.5px;right:436.96px;">82</div>
<div class="t" style="top:448.94px;font-size:6.5px;right:414.19px;">92</div>
<div class="t" style="top:448.94px;font-size:6.5px;right:391.42px;">103</div>
<div class="t" style="top:448.94px;font-size:6.5px;right:368.65px;">113</div>
<div class="t" style="top:448.94px;font-size:6.5px;right:345.88px;">123</div>
<div class="t" style="top:448.94px;font-size:6.5px;right:323.11px;">133</div>
<div class="t" style="top:448.94px;font-size:6.5px;right:300.34px;">143</div>
<div class="t" style="top:448.94px;font-size:6.5px;right:277.57px;">153</div>
<div class="t" style="top:448.94px;font-size:6.5px;right:254.80px;">163</div>
<div class="t" style="top:448.94px;font-size:6.5px;right:232.03px;">173</div>
<div class="t" style="top:448.94px;font-size:6.5px;right:209.26px;">184</div>
<div class="t" style="top:448.94px;font-size:6.5px;right:186.49px;">194</div>
<div class="t" style="top:448.94px;font-size:6.5px;right:163.72px;">204</div>
<div class="t" style="top:448.94px;font-size:6.5px;right:140.95px;">214</div>
<div class="t" style="top:448.94px;font-size:6.5px;right:118.18px;">224</div>
<div class="t" style="top:448.94px;font-size:6.5px;right:95.41px;">234</div>
<div class="t" style="top:448.94px;font-size:6.5px;right:72.64px;">244</div>
<div class="t" style="color:#000;left:77.5px;top:351px;font-size:30px;font-weight:bold;-webkit-text-stroke:0.5px #000;transform-origin:0 0;transform:scale(0.945,1.03)">2017-2019 risk 55</div>
<div class="th" style="left:19px;width:29px"><span>№</span></div>
<div class="th" style="left:49px;width:114px"><span>Время</span></div>
<div class="th" style="left:164px;width:46px"><span>Тип</span></div>
<div class="th" style="left:211px;width:47px"><span>Ордер</span></div>
<div class="th" style="left:259px;width:48px"><span>Объем</span></div>
<div class="th" style="left:308px;width:56px"><span>Цена</span></div>
<div class="th" style="left:365px;width:57px"><span>S / L</span></div>
<div class="th" style="left:423px;width:57px"><span>T / P</span></div>
<div class="th" style="left:481px;width:62px"><span>Прибыль</span></div>
<div class="th" style="left:544px;width:57px"><span>Баланс</span></div>
<div class="t" style="right:593px;top:476.7px;font-size:7.7px">1</div>
<div class="t" style="right:480px;top:476.7px;font-size:7.7px">2017.01.02 09:00</div>
<div class="t" style="right:433px;top:476.7px;font-size:7.7px">buy</div>
<div class="t" style="right:385px;top:476.7px;font-size:7.7px">1</div>
<div class="t" style="right:336px;top:476.7px;font-size:7.7px">0.02</div>
<div class="t" style="right:279px;top:476.7px;font-size:7.7px">1.05149</div>
<div class="t" style="right:221px;top:476.7px;font-size:7.7px">1.04849</div>
<div class="t" style="right:163px;top:476.7px;font-size:7.7px">1.05698</div>
</body></html>
